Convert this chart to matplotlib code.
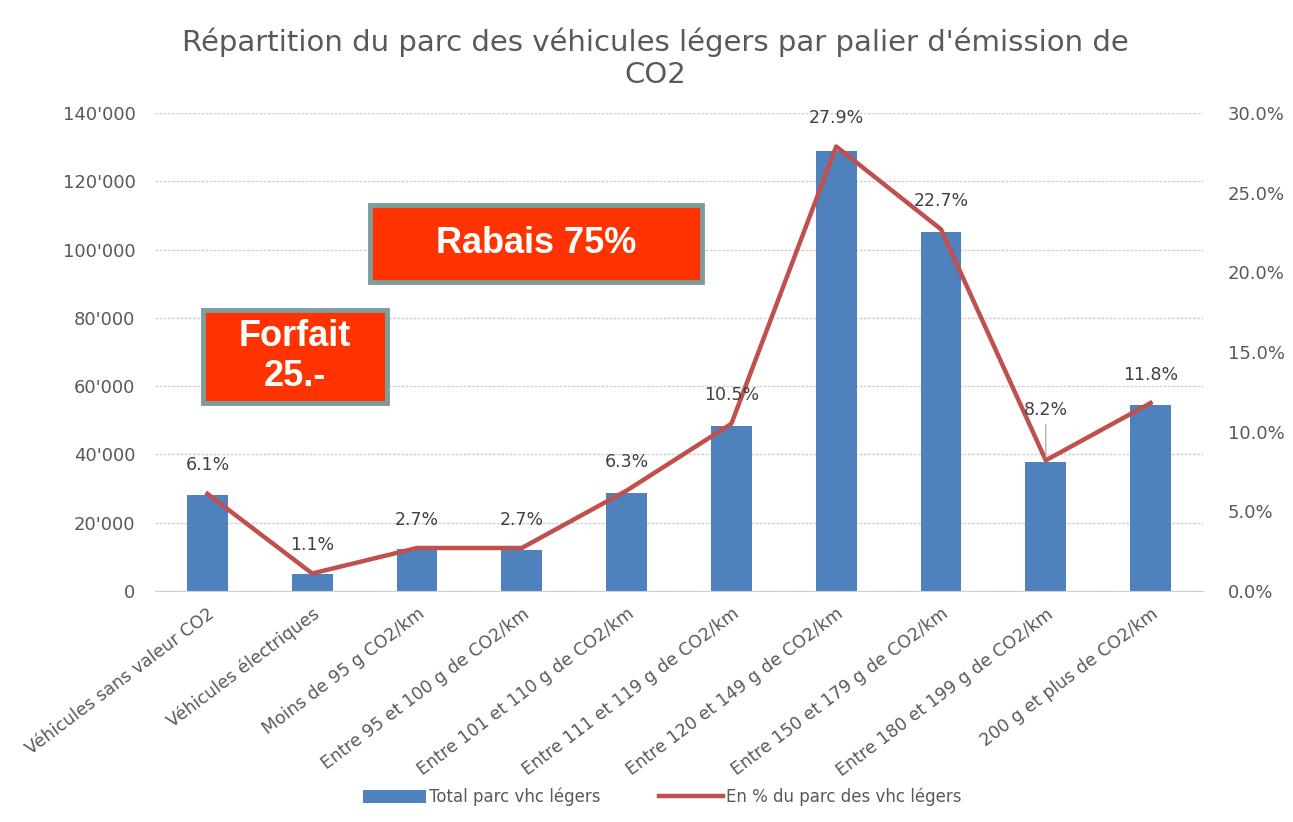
import numpy as np
import matplotlib.pyplot as plt
from matplotlib.ticker import FuncFormatter, MultipleLocator
from matplotlib.patches import Rectangle, Patch
from matplotlib.lines import Line2D

categories = ["Véhicules sans valeur CO2", "Véhicules électriques", "Moins de 95 g CO2/km",
              "Entre 95 et 100 g de CO2/km", "Entre 101 et 110 g de CO2/km",
              "Entre 111 et 119 g de CO2/km", "Entre 120 et 149 g de CO2/km",
              "Entre 150 et 179 g de CO2/km", "Entre 180 et 199 g de CO2/km",
              "200 g et plus de CO2/km"]
total_parc = [28000, 4900, 12400, 11900, 28800, 48400, 129000, 105000, 37800, 54400]
pct_parc = [6.1, 1.1, 2.7, 2.7, 6.3, 10.5, 27.9, 22.7, 8.2, 11.8]

bar_col = '#4f81bd'
line_col = '#c0504d'
txt_col = '#595959'
font = 'DejaVu Sans'

W, H = 1293, 822
fig = plt.figure(figsize=(W / 100, H / 100), dpi=100)
ax = fig.add_axes([155 / W, 1 - 591 / H, (1203 - 155) / W, (591 - 113) / H])
ax2 = ax.twinx()

x = np.arange(len(categories))
ax.bar(x, total_parc, width=0.39, color=bar_col, zorder=2)
ax.set_ylim(0, 140000)
ax.set_xlim(-0.5, len(categories) - 0.5)
ax.yaxis.set_major_locator(MultipleLocator(20000))
ax.yaxis.set_major_formatter(FuncFormatter(lambda v, p: f"{int(v):,}".replace(",", "'")))
ax.grid(axis='y', color='#d0d0d0', linestyle=(0, (2, 1)), linewidth=1, zorder=0)
ax.set_axisbelow(True)

ax2.plot(x, pct_parc, color=line_col, linewidth=3.2, zorder=3)
ax2.set_ylim(0, 30)
ax2.yaxis.set_major_locator(MultipleLocator(5))
ax2.yaxis.set_major_formatter(FuncFormatter(lambda v, p: f"{v:.1f}%"))

for i, v in enumerate(pct_parc):
    off = 30 if i == 8 else 14
    ax2.annotate(f"{v}%", (x[i], v), xytext=(0, off), textcoords='offset points',
                 ha='center', va='bottom', fontsize=12.5, color='#404040', family=font)
# leader line for 8.2%
ax2.annotate("", (x[8], pct_parc[8]), xytext=(0, 28), textcoords='offset points',
             arrowprops=dict(arrowstyle='-', color='#a0a0a0', lw=0.8))

for a in (ax, ax2):
    for s in a.spines.values():
        s.set_visible(False)
    a.tick_params(length=0, labelsize=13, labelcolor=txt_col)
    for lab in a.get_yticklabels():
        lab.set_family(font)
ax.spines['bottom'].set_visible(True)
ax.spines['bottom'].set_color('#d0d0d0')
ax.tick_params(axis='y', pad=14)
ax2.tick_params(axis='y', pad=18)

ax.set_xticks(x)
ax.set_xticklabels(categories, rotation=37, ha='right', rotation_mode='anchor',
                   fontsize=12.5, color=txt_col, family=font)
ax.tick_params(axis='x', pad=10)

fig.text(655 / W, 1 - 58 / H,
         "Répartition du parc des véhicules légers par palier d'émission de\nCO2",
         ha='center', va='center', fontsize=21, color=txt_col, family=font,
         linespacing=1.2)

# highlighted boxes
for (x0, y0, x1, y1), label in [((370, 205, 702, 282), "Rabais 75%"),
                                ((203, 310, 387, 403), "Forfait\n25.-")]:
    fig.patches.append(Rectangle((x0 / W, 1 - y1 / H), (x1 - x0) / W, (y1 - y0) / H,
                                 transform=fig.transFigure, facecolor='#ff3300',
                                 edgecolor='#7f9c9c', linewidth=3.5, zorder=5))
    fig.text((x0 + x1) / 2 / W, 1 - (y0 + y1) / 2 / H, label, ha='center', va='center',
             fontsize=26, fontweight='bold', color='white', family='Liberation Sans',
             zorder=6, linespacing=1.22)

handles = [Patch(facecolor=bar_col), Line2D([0], [0], color=line_col, lw=3.2)]
fig.legend(handles, ["Total parc vhc légers", "En % du parc des vhc légers"],
           loc='center', bbox_to_anchor=(662 / W, 1 - 797 / H), ncol=2, frameon=False,
           handlelength=3.8, handleheight=0.8, columnspacing=3.5, handletextpad=0.2,
           prop={'family': font, 'size': 12}, labelcolor=txt_col)

fig.savefig('out.png', dpi=100)
